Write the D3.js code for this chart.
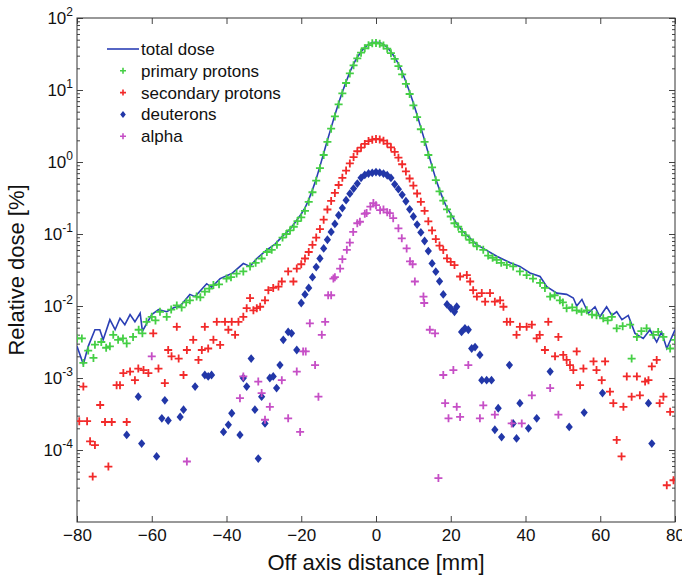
<!DOCTYPE html>
<html lang="en">
  <head>
    <meta charset="UTF-8" />
    <title>Relative dose profile</title>
    <script src="https://d3js.org/d3.v7.min.js"></script>
    <style>
      body { margin: 0; background: #fff; }
      svg { font-family: "Liberation Sans", Arial, sans-serif; }
    </style>
  </head>
  <body>
    <svg id="chart" width="682" height="580"></svg>

    <script>
      // ---- data (off axis distance in mm, relative dose in %) ----
      const xTicks = [-80, -60, -40, -20, 0, 20, 40, 60, 80];
      const yDecades = [-4, -3, -2, -1, 0, 1, 2];

      const legendLabels = ["total dose", "primary protons", "secondary protons", "deuterons", "alpha"];

      const center = [-20, -19, -18, -17, -16, -15, -14, -13, -12, -11, -10, -9, -8, -7, -6, -5, -4, -3, -2, -1,
        0, 1, 2, 3, 4, 5, 6, 7, 8, 9, 10, 11, 12, 13, 14, 15, 16, 17, 18, 19, 20];

      const totalX = [-80, -78.3, -77, -75.2, -73.9, -73, -71.2, -69.8, -68.5, -67.2, -65.8, -64.5, -63.1, -62.5,
        -60, -58.2, -56, -54, -52.4, -49.8, -48.4, -45.3, -44, -41.7, -38.6, -35.5, -33.7, -31.9, -29.2, -27,
        -25, -23, -21.5].concat(center, [21.5, 23, 25, 27, 28.7, 32.3, 35.9, 38.5, 41.2, 43.9, 45.7, 48.4, 51,
        52.8, 53.7, 55.1, 56.8, 58.6, 59.9, 61.7, 63.1, 64.4, 65.8, 67.5, 69.3, 71.5, 73.3, 75.1, 76.4, 77.8, 80]);
      const totalDose = [0.00275, 0.00155, 0.00275, 0.00468, 0.00468, 0.00339, 0.00646, 0.00468, 0.00676, 0.0055,
        0.00759, 0.00603, 0.00794, 0.00447, 0.00759, 0.00891, 0.00832, 0.00955, 0.01, 0.0145, 0.0135, 0.0204,
        0.0182, 0.024, 0.0282, 0.0389, 0.0355, 0.0457, 0.0603, 0.0724, 0.0933, 0.117, 0.148,
        0.19, 0.23, 0.3, 0.41, 0.58, 0.87, 1.32, 2.0, 3.0, 4.5, 6.6, 9.4, 13, 17.7, 23, 28.5, 34, 39, 43, 45.5,
        46, 45.5, 43, 39, 34, 28.5, 23, 17.7, 13, 9.4, 6.6, 4.5, 3.0, 2.0, 1.32, 0.87, 0.58, 0.41, 0.3, 0.23, 0.19,
        0.141, 0.112, 0.0891, 0.0708, 0.0631, 0.049, 0.0398, 0.0355, 0.0288, 0.0257, 0.0186, 0.0151, 0.0145,
        0.0129, 0.01, 0.0123, 0.00794, 0.00977, 0.00708, 0.00977, 0.00741, 0.00832, 0.00646, 0.00741, 0.00417,
        0.00355, 0.00468, 0.00316, 0.00437, 0.00257, 0.00468];

      const primaryX = [-80, -78.7, -78.3, -77, -75.6, -75.2, -73.5, -72.2, -71.2, -70.3, -69, -67.7, -66.7, -65,
        -63.5, -62.5, -61.4, -60, -59, -57.8, -56, -54.8, -53.3, -52, -50.8, -49.8, -48, -47, -45.8, -44.6, -43.5,
        -42, -40, -38.8, -37.3, -35.5, -33.7, -32.2, -30.6, -29.2, -27.9, -26.5, -25, -24, -23, -22, -21
      ].concat(center, [21, 22, 23, 24, 25, 26, 27, 28.7, 30, 31.2, 32.3, 33.5, 35, 36.7, 38.5, 40.3, 42, 43.9,
        45.2, 46.6, 47.8, 49.2, 50, 51, 52.5, 53.7, 55, 56.4, 57.8, 59, 60.8, 62, 63.1, 64.4, 66, 68, 68.4, 69.8,
        71, 72.4, 74.2, 75.5, 76.9, 78.7, 80]);
      const primaryDose = [0.00355, 0.00355, 0.00162, 0.0024, 0.0019, 0.0029, 0.00316, 0.00263, 0.00275, 0.00398,
        0.00339, 0.00355, 0.00302, 0.00372, 0.00468, 0.00417, 0.00603, 0.00708, 0.00631, 0.00832, 0.00708,
        0.00891, 0.0102, 0.00955, 0.0112, 0.012, 0.0135, 0.0132, 0.0158, 0.0174, 0.0195, 0.02, 0.024, 0.0251,
        0.0282, 0.0302, 0.0355, 0.0398, 0.0457, 0.0562, 0.0603, 0.0708, 0.0891, 0.1, 0.112, 0.126, 0.151,
        0.17, 0.21, 0.28, 0.38, 0.55, 0.82, 1.25, 1.9, 2.9, 4.3, 6.3, 9, 12.5, 17, 22, 27.5, 33, 38, 42, 44.5,
        45, 44, 41.5, 37.5, 32.5, 27, 21.5, 16.5, 12.2, 8.8, 6.1, 4.2, 2.85, 1.9, 1.25, 0.84, 0.56, 0.39, 0.29,
        0.22, 0.175,
        0.141, 0.126, 0.107, 0.0955, 0.0832, 0.0759, 0.0676, 0.0603, 0.0501, 0.0468, 0.0437, 0.0398, 0.0372,
        0.0355, 0.0302, 0.0269, 0.024, 0.0209, 0.0178, 0.0135, 0.0141, 0.012, 0.0112, 0.00933, 0.00955, 0.00871,
        0.00832, 0.00871, 0.00759, 0.00741, 0.00676, 0.00631, 0.00708, 0.0049, 0.00525, 0.0055, 0.00186,
        0.00372, 0.00447, 0.0049, 0.00398, 0.00437, 0.00372, 0.00257, 0.00339];

      const secondaryX = [-79.4, -78.3, -77.3, -76.5, -75.8, -75.2, -73.8, -72.5, -71.6, -70.7, -69.4, -68.5,
        -67.6, -66.7, -65.8, -64.5, -63.6, -62.2, -60.9, -59.6, -58.2, -56.5, -55.6, -54.7, -53.3, -52.8, -51.5,
        -50.6, -48.9, -47.5, -46.6, -45.8, -44.9, -43.5, -42.6, -41.7, -40.4, -39.5, -38.6, -37.7, -36.8, -35.5,
        -34.6, -33.7, -32.8, -31.9, -31, -29.7, -28.8, -27.5, -26.1, -25.2, -23.5, -22.1, -21.2
      ].concat(center, [21, 22.5, 24.3, 25.2, 26, 27, 28.3, 29.2, 30.5, 31.8, 33.2, 34.1, 35, 35.9, 37.6, 38.5,
        40.3, 41.7, 43, 43.8, 45.2, 46.1, 47.9, 48.8, 50.1, 51, 51.9, 52.8, 53.7, 54.6, 55.5, 58.2, 59, 60.4,
        61.3, 62.6, 63.5, 64.4, 65.7, 66.2, 67.1, 68.4, 69.8, 70.6, 72, 72.9, 73.8, 75.1, 75.9, 76.9, 77.8, 78.7,
        79.6]);
      const secondaryDose = [2.51e-4, 7.59e-4, 2.51e-4, 1.32e-4, 4.27e-5, 1.17e-4, 4.22e-4, 2.45e-4, 5.89e-5,
        2.45e-4, 7.94e-4, 7.94e-4, 1.17e-3, 2.45e-4, 1.23e-3, 9.33e-4, 1.35e-3, 1.29e-3, 1.17e-3, 4.17e-3,
        1.35e-3, 8.51e-4, 2.45e-3, 2.0e-3, 5.13e-3, 1.86e-3, 1.1e-3, 2.45e-3, 3.39e-3, 1.78e-3, 2.45e-3,
        5.13e-3, 2.57e-3, 3.39e-3, 6.03e-3, 2.88e-3, 6.03e-3, 4.68e-3, 6.03e-3, 3.98e-3, 6.03e-3, 7.08e-3,
        9.33e-3, 0.0129, 8.71e-3, 9.33e-3, 9.77e-3, 0.012, 0.0166, 0.0178, 0.0186, 0.0219, 0.0302, 0.0219, 0.0331,
        0.038, 0.0457, 0.0562, 0.0708, 0.0891, 0.117, 0.158, 0.219, 0.288, 0.372, 0.479, 0.603, 0.759, 0.955,
        1.17, 1.41, 1.58, 1.78, 1.95, 2.04, 2.09, 2.06, 1.98, 1.8, 1.6, 1.38, 1.15, 0.93, 0.74, 0.59, 0.47,
        0.365, 0.28, 0.21, 0.15, 0.112, 0.085, 0.069, 0.06, 0.046, 0.041,
        0.037, 0.0257, 0.0269, 0.0219, 0.0166, 0.0135, 0.0151, 0.0115, 0.0151, 0.0115, 0.012, 9.77e-3, 6.03e-3,
        6.03e-3, 3.98e-3, 5.13e-3, 5.13e-3, 5.5e-3, 3.55e-3, 3.98e-3, 2.45e-3, 6.03e-3, 2.0e-3, 3.72e-3,
        2.09e-3, 1.78e-3, 1.51e-3, 1.29e-3, 2.34e-3, 7.94e-4, 1.35e-3, 1.7e-3, 1.29e-3, 9.33e-4, 1.7e-3,
        6.46e-4, 4.47e-4, 1.38e-4, 8.13e-5, 3.98e-4, 1.05e-3, 5.5e-4, 1.05e-3, 5.75e-4, 8.91e-4, 9.33e-4,
        1.45e-3, 1.78e-3, 4.47e-4, 5.5e-4, 3.24e-5, 3.39e-4, 3.8e-5];

      const deuteronX = [-66.7, -63.6, -62.7, -58.7, -57.3, -56.5, -55.6, -52.4, -51.5, -48.4, -45.8, -44.9, -44,
        -40.8, -39.5, -38.6, -36.4, -35.5, -34.6, -33.4, -32.4, -31.5, -30.6, -29.7, -28.4, -27.5, -26.6, -25.7,
        -24.8, -23.5, -22.6, -21.2
      ].concat(center, [21, 21.6, 22.9, 23.8, 24.7, 25.6, 26.5, 27.8, 28.3, 29.6, 30.9, 31.8, 32.7, 33.6, 35.7,
        36.7, 37.6, 38.5, 40.8, 43, 46.6, 51.7, 55.7, 60.6, 72.9, 73.8]);
      const deuteronDose = [1.62e-4, 5.5e-4, 1.23e-4, 8.13e-5, 2.75e-4, 4.9e-4, 2.57e-4, 2.88e-4, 3.63e-4,
        7.59e-4, 1.1e-3, 1.05e-3, 1.1e-3, 1.78e-4, 2.24e-4, 3.24e-4, 1.62e-4, 1.0e-3, 7.59e-4, 1.86e-3, 3.63e-4,
        7.59e-5, 5.5e-4, 2.34e-4, 1.0e-3, 1.05e-3, 7.24e-4, 1.51e-3, 3.39e-3, 4.37e-3, 4.17e-3, 2.45e-3,
        0.011, 0.0145, 0.0178, 0.0251, 0.0347, 0.0457, 0.0631, 0.0832, 0.107, 0.138, 0.182, 0.229, 0.295, 0.363,
        0.427, 0.501, 0.603, 0.661, 0.692, 0.708, 0.724, 0.71, 0.69, 0.655, 0.6, 0.49, 0.42, 0.35, 0.285, 0.22,
        0.175, 0.135, 0.105, 0.08, 0.058, 0.039, 0.03, 0.022, 0.0145, 0.0105, 0.0093,
        8.32e-3, 9.77e-3, 4.37e-3, 4.9e-3, 4.68e-3, 2.57e-3, 2.69e-3, 2.09e-3, 9.33e-4, 9.33e-4, 9.33e-4,
        1.91e-4, 3.8e-4, 1.51e-4, 1.51e-3, 2.34e-4, 1.45e-4, 4.47e-4, 2.0e-4, 2.75e-4, 1.23e-3, 2.09e-4,
        3.31e-4, 6.17e-4, 4.47e-4, 1.23e-4];

      const alphaX = [-60, -50.6, -36.4, -35.5, -31.5, -30.6, -29.7, -28.4, -25.2, -23.5, -21.2, -20.3, -19.5,
        -18.8, -17.7, -16.3, -15.4, -14.5, -13.6, -12.8, -12, -11.4, -11, -9.6, -9, -7.8, -7, -6.1, -5, -4.3, -3,
        -2.5, -1.5, -0.7, 0, 1.1, 2, 3, 3.7, 4.6, 6, 6.9, 8.2, 9.1, 9.8, 10.4, 12.7, 12.9, 14.4, 15.8, 16.7, 18,
        18.5, 19.4, 20.7, 21.6, 22.5, 24.7, 27.8, 28.7, 31.8, 36.3, 39, 41.7, 46.6, 48.8];
      const alphaDose = [2.0e-3, 6.92e-5, 5.25e-4, 1.05e-3, 8.91e-4, 6.17e-4, 2.63e-4, 3.98e-4, 9.33e-4, 2.75e-4,
        1.23e-3, 1.78e-4, 2.34e-3, 2.34e-3, 5.75e-3, 1.51e-3, 5.5e-4, 3.98e-3, 6.03e-3, 0.0141, 0.0141, 0.024,
        0.0251, 0.0331, 0.0447, 0.0603, 0.0759, 0.107, 0.141, 0.148, 0.191, 0.195, 0.24, 0.269, 0.251, 0.214,
        0.219, 0.2, 0.195, 0.166, 0.12, 0.0871, 0.0631, 0.0417, 0.038, 0.0219, 0.0135, 0.011, 4.68e-3, 4.17e-3,
        4.07e-5, 1.1e-3, 4.47e-4, 2.75e-4, 1.29e-3, 3.98e-4, 2.88e-4, 1.51e-3, 2.75e-4, 4.17e-4, 3.09e-4,
        2.34e-4, 2.34e-4, 5.75e-4, 7.24e-4, 3.09e-4];

      const colors = {
        total: "#2b3fb5",
        primary: "#45cf45",
        secondary: "#f22a2a",
        deuteron: "#2237a8",
        alpha: "#c64fc6",
      };

      // ---- layout ----
      const svg = d3.select("#chart"),
        margin = { top: 18, right: 7, bottom: 58, left: 77 },
        width = +svg.attr("width") - margin.left - margin.right,
        height = +svg.attr("height") - margin.top - margin.bottom,
        chart = svg.append("g").attr("transform", `translate(${margin.left},${margin.top})`);

      const x = d3.scaleLinear().domain([-80, 80]).range([0, width]);
      const y = d3.scaleLog().domain([1e-5, 1e2]).range([height, 0]);

      svg.append("defs").append("clipPath").attr("id", "clip")
        .append("rect").attr("width", width).attr("height", height);

      // minor log ticks
      const minorTicks = [];
      for (let e = -5; e < 2; e++) {
        for (let m = 2; m <= 9; m++) minorTicks.push(m * Math.pow(10, e));
      }
      const majorTicks = yDecades.map((e) => Math.pow(10, e));

      const tickColor = "#444";
      function styleAxis(g) {
        g.select(".domain").remove();
        g.selectAll(".tick line").attr("stroke", tickColor);
      }

      // bottom / top
      chart.append("g").attr("transform", `translate(0,${height})`)
        .call(d3.axisBottom(x).tickValues(xTicks).tickSize(-6).tickSizeOuter(0).tickPadding(7))
        .call(styleAxis)
        .call((g) => g.selectAll("text").attr("font-size", 17).attr("fill", "#111")
          .attr("font-family", "Liberation Sans, Arial, sans-serif"));
      chart.append("g")
        .call(d3.axisTop(x).tickValues(xTicks).tickSize(-6).tickSizeOuter(0).tickFormat(""))
        .call(styleAxis);

      // left / right, major and minor
      chart.append("g").call(d3.axisLeft(y).tickValues(majorTicks).tickSize(-6).tickSizeOuter(0).tickFormat(""))
        .call(styleAxis);
      chart.append("g").call(d3.axisLeft(y).tickValues(minorTicks).tickSize(-3).tickSizeOuter(0).tickFormat(""))
        .call(styleAxis);
      chart.append("g").attr("transform", `translate(${width},0)`)
        .call(d3.axisRight(y).tickValues(majorTicks).tickSize(-6).tickSizeOuter(0).tickFormat(""))
        .call(styleAxis);
      chart.append("g").attr("transform", `translate(${width},0)`)
        .call(d3.axisRight(y).tickValues(minorTicks).tickSize(-3).tickSizeOuter(0).tickFormat(""))
        .call(styleAxis);

      // y tick labels as 10^n
      const yLabels = chart.append("g").selectAll("text").data(yDecades).enter()
        .append("text")
        .attr("x", -4)
        .attr("y", (d) => y(Math.pow(10, d)) + 6)
        .attr("text-anchor", "end")
        .attr("fill", "#111")
        .attr("font-size", 17);
      yLabels.append("tspan").text("10");
      yLabels.append("tspan").attr("dy", -8).attr("font-size", 12).text((d) => d);

      // frame
      chart.append("rect").attr("width", width).attr("height", height)
        .attr("fill", "none").attr("stroke", "#333").attr("stroke-width", 1);

      // axis titles
      svg.append("text")
        .attr("x", margin.left + width / 2)
        .attr("y", 570)
        .attr("text-anchor", "middle")
        .attr("font-size", 22)
        .attr("fill", "#111")
        .text("Off axis distance [mm]");
      svg.append("text")
        .attr("transform", `translate(24,${margin.top + height / 2}) rotate(-90)`)
        .attr("text-anchor", "middle")
        .attr("font-size", 22)
        .attr("fill", "#111")
        .text("Relative dose [%]");

      // ---- data marks ----
      const plot = chart.append("g").attr("clip-path", "url(#clip)");
      const plusPath = "M-4,0H4M0,-4V4";
      const diamondPath = "M0,-4.4L3.6,0L0,4.4L-3.6,0Z";

      const totalData = totalX.map((d, i) => [d, totalDose[i]]);
      plot.append("path").datum(totalData)
        .attr("fill", "none").attr("stroke", colors.total).attr("stroke-width", 1.6)
        .attr("d", d3.line().x((d) => x(d[0])).y((d) => y(d[1])));

      function plusSeries(xs, vs, color) {
        plot.append("g").selectAll("path").data(xs.map((d, i) => [d, vs[i]])).enter()
          .append("path")
          .attr("d", plusPath)
          .attr("transform", (d) => `translate(${x(d[0])},${y(d[1])})`)
          .attr("stroke", color).attr("stroke-width", 1.8).attr("fill", "none");
      }
      plusSeries(primaryX, primaryDose, colors.primary);
      plusSeries(secondaryX, secondaryDose, colors.secondary);

      plot.append("g").selectAll("path").data(deuteronX.map((d, i) => [d, deuteronDose[i]])).enter()
        .append("path")
        .attr("d", diamondPath)
        .attr("transform", (d) => `translate(${x(d[0])},${y(d[1])})`)
        .attr("fill", colors.deuteron);

      plusSeries(alphaX, alphaDose, colors.alpha);

      // ---- legend ----
      const legend = chart.append("g").attr("transform", "translate(30,31)");
      const rowH = 21.8;
      legend.append("line").attr("x1", 0).attr("x2", 32).attr("y1", 0).attr("y2", 0)
        .attr("stroke", colors.total).attr("stroke-width", 1.6);
      const markerColors = [colors.primary, colors.secondary, colors.deuteron, colors.alpha];
      markerColors.forEach((c, i) => {
        const g = legend.append("g").attr("transform", `translate(16,${(i + 1) * rowH})`);
        if (i === 2) g.append("path").attr("d", "M0,-3.5L2.8,0L0,3.5L-2.8,0Z").attr("fill", c);
        else g.append("path").attr("d", "M-3,0H3M0,-3V3").attr("stroke", c).attr("stroke-width", 1.6);
      });
      legend.selectAll("text").data(legendLabels).enter()
        .append("text")
        .attr("x", 34)
        .attr("y", (d, i) => i * rowH + 6)
        .attr("font-size", 17)
        .attr("fill", "#111")
        .text((d) => d);
    </script>
  </body>
</html>
